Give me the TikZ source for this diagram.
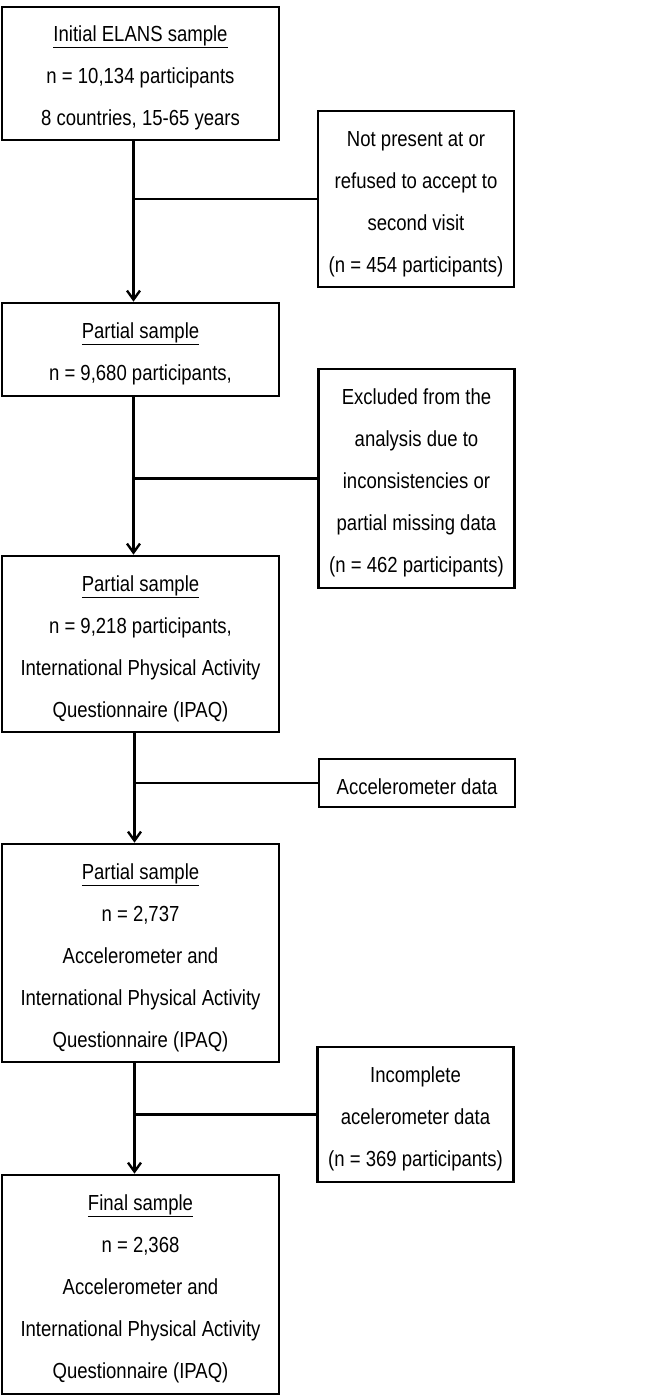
\documentclass[tikz,border=0pt]{standalone}
\usepackage{fontspec}
\setmainfont{Liberation Sans}[FakeStretch=0.85]
\usetikzlibrary{arrows.meta}
\begin{document}
\begin{tikzpicture}[x=1pt,y=-1pt,
  lw/.style={line width=2.7pt},
  txt/.style={align=center,font=\fontsize{21.8}{42}\selectfont,inner sep=0pt},
  mainbox/.style={lw,draw,rectangle,minimum width=277pt,inner sep=0pt},
  sidebox/.style={lw,draw,rectangle,minimum width=196pt,inner sep=0pt},
  flow/.style={lw,-{Straight Barb[length=9pt,width=13pt,line width=2.4pt]}},
  branch/.style={lw}]
\useasboundingbox (0,0) rectangle (651,1399);
\node[mainbox,minimum height=133pt] (B1) at (140.5,73.5) {};
\node[txt] (T1) at (140.5,78)
  {\underline{Initial ELANS sample}\\n = 10,134 participants\\8 countries, 15-65 years};
\node[sidebox,minimum height=176pt] (S1) at (416,199) {};
\node[txt] (U1) at (416,204)
  {Not present at or\\refused to accept to\\second visit\\(n = 454 participants)};
\node[mainbox,minimum height=93pt] (B2) at (140.5,349.5) {};
\node[txt] (T2) at (140.5,354)
  {\underline{Partial sample}\\n = 9,680 participants,};
\node[sidebox,minimum height=219pt] (S2) at (416.5,478.5) {};
\node[txt] (U2) at (416.5,483)
  {Excluded from the\\analysis due to\\inconsistencies or\\partial missing data\\(n = 462 participants)};
\node[mainbox,minimum height=176pt] (B3) at (140.5,644) {};
\node[txt] (T3) at (140.5,648.5)
  {\underline{Partial sample}\\n = 9,218 participants,\\International Physical Activity\\Questionnaire (IPAQ)};
\node[sidebox,minimum height=48pt] (S3) at (417,783) {};
\node[txt] (U3) at (417,787) {Accelerometer data};
\node[mainbox,minimum height=218pt] (B4) at (140.5,953) {};
\node[txt] (T4) at (140.5,957.5)
  {\underline{Partial sample}\\n = 2,737\\Accelerometer and\\International Physical Activity\\Questionnaire (IPAQ)};
\node[sidebox,minimum height=135pt] (S4) at (415.5,1114.5) {};
\node[txt] (U4) at (415.5,1119)
  {Incomplete\\acelerometer data\\(n = 369 participants)};
\node[mainbox,minimum height=219pt] (B5) at (140.5,1284.5) {};
\node[txt] (T5) at (140.5,1289)
  {\underline{Final sample}\\n = 2,368\\Accelerometer and\\International Physical Activity\\Questionnaire (IPAQ)};
% trunks
\coordinate (t1) at ([xshift=-7pt]B1.south);
\coordinate (t2) at ([xshift=-7pt]B2.south);
\coordinate (t3) at ([xshift=-6pt]B3.south);
\coordinate (t4) at ([xshift=-6pt]B4.south);
\draw[flow] (t1) -- (t1 |- B2.north);
\draw[branch] (S1.west) -- (S1.west -| t1);
\draw[flow] (t2) -- (t2 |- B3.north);
\draw[branch] (S2.west) -- (S2.west -| t2);
\draw[flow] (t3) -- (t3 |- B4.north);
\draw[branch] (S3.west) -- (S3.west -| t3);
\draw[flow] (t4) -- (t4 |- B5.north);
\draw[branch] (S4.west) -- (S4.west -| t4);
\end{tikzpicture}
\end{document}
